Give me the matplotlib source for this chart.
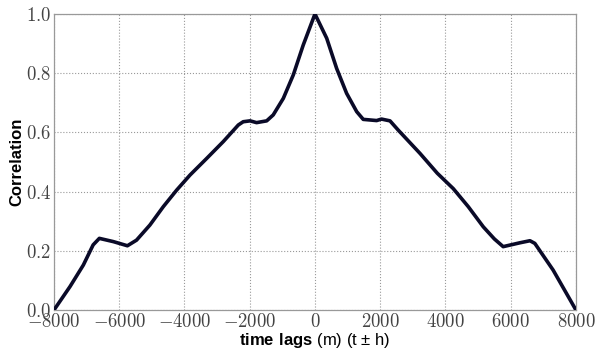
import matplotlib
matplotlib.use("Agg")
import matplotlib.pyplot as plt
from matplotlib.ticker import FuncFormatter

# lag (m) vs correlation
lags = [-8000, -7510, -7100, -6800, -6610, -6180, -5750, -5470, -5060, -4650,
        -4240, -3830, -3320, -2810, -2350, -2200, -1990, -1790, -1480, -1280,
        -970, -665, -360, 0, 360, 665, 970, 1280, 1480, 1890, 2040, 2300,
        2550, 3220, 3750, 4240, 4700, 5160, 5500, 5770, 6280, 6590, 6740,
        7300, 8000]
corr = [0.0, 0.079, 0.152, 0.22, 0.242, 0.231, 0.217, 0.236, 0.287, 0.349,
        0.405, 0.456, 0.512, 0.569, 0.625, 0.636, 0.639, 0.633, 0.639, 0.659,
        0.715, 0.794, 0.895, 1.0, 0.918, 0.816, 0.732, 0.67, 0.644, 0.640,
        0.645, 0.639, 0.608, 0.529, 0.462, 0.41, 0.349, 0.281, 0.24, 0.214,
        0.227, 0.234, 0.225, 0.135, 0.0]

xticks = [-8000, -6000, -4000, -2000, 0, 2000, 4000, 6000, 8000]
yticks = [0.0, 0.2, 0.4, 0.6, 0.8, 1.0]

plt.rcParams["font.family"] = ["Liberation Sans", "DejaVu Sans"]
plt.rcParams["mathtext.fontset"] = "cm"
plt.rcParams["mathtext.bf"] = "Liberation Sans:bold"
plt.rcParams["mathtext.rm"] = "Liberation Sans"

fig = plt.figure(figsize=(6.02, 3.5), dpi=100)
ax = fig.add_axes([0.0897, 0.1143, 0.867, 0.8457])

ax.plot(lags, corr, color="#0a0a28", lw=2.6, solid_joinstyle="round",
        solid_capstyle="round", zorder=3)

ax.set_xlim(-8000, 8000)
ax.set_ylim(0, 1)
ax.set_xticks(xticks)
ax.set_yticks(yticks)
ax.xaxis.set_major_formatter(FuncFormatter(lambda v, p: f"${v:.0f}$"))
ax.yaxis.set_major_formatter(FuncFormatter(lambda v, p: f"${v:.1f}$"))
ax.tick_params(length=0, pad=2, labelsize=13.5, labelcolor="#444444")
ax.grid(True, ls=":", color="#999999", lw=0.8)
for s in ax.spines.values():
    s.set_color("#999999")
    s.set_linewidth(0.9)

xl = ax.set_xlabel(r"$\mathbf{time\ lags}$ (m) (t ± h)", fontsize=12, labelpad=0)
xl.set_math_fontfamily("custom")
ax.set_ylabel("Correlation", fontsize=12, fontweight="bold", labelpad=1)

fig.savefig("out.png", dpi=100)
